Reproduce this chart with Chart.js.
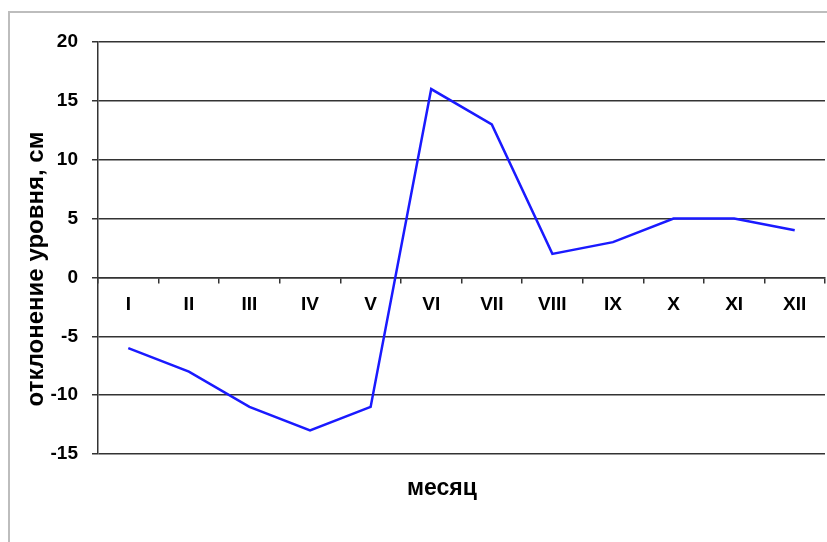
<!DOCTYPE html>
<html>
<head>
<meta charset="utf-8">
<script src="https://cdn.jsdelivr.net/npm/chart.js@4.4.1/dist/chart.umd.min.js"></script>
<style>
    body { margin: 0; background: #fff; overflow: hidden; }
    .frame {
        position: absolute; left: 8px; top: 11px; width: 840px; height: 560px;
        border-left: 2px solid #bdbdbd; border-top: 2px solid #bdbdbd;
    }
    #chart { position: absolute; left: 0; top: 0; }
</style>
</head>
<body>
<div class="frame"></div>
<canvas id="chart" width="827" height="542"></canvas>
<script>
// Months (Roman numerals) and level deviation, cm
const months = ['I', 'II', 'III', 'IV', 'V', 'VI', 'VII', 'VIII', 'IX', 'X', 'XI', 'XII'];
const deviation = [-6, -8, -11, -13, -11, 16, 13, 2, 3, 5, 5, 4];
const yTicks = [-15, -10, -5, 0, 5, 10, 15, 20];

const yTitle = 'отклонение уровня, см';
const xTitle = 'месяц';

const FONT = '"Liberation Sans", Arial, sans-serif';
const GRID = '#333333';

// Axis titles drawn by hand (Excel puts them off-centre)
const axisTitles = {
    id: 'axisTitles',
    afterDraw(chart) {
        const ctx = chart.ctx;
        ctx.save();
        ctx.fillStyle = '#000';
        ctx.textAlign = 'center';
        ctx.textBaseline = 'alphabetic';
        ctx.font = 'bold 23px ' + FONT;
        ctx.fillText(xTitle, 442, 495);
        ctx.font = 'bold 24px ' + FONT;
        ctx.translate(43, 269);
        ctx.rotate(-Math.PI / 2);
        ctx.fillText(yTitle, 0, 0);
        ctx.restore();
    }
};

document.addEventListener('DOMContentLoaded', function () {
    const ctx = document.getElementById('chart').getContext('2d');
    new Chart(ctx, {
        type: 'line',
        data: {
            labels: months,
            datasets: [{
                data: deviation,
                borderColor: '#1a1aff',
                borderWidth: 2.5,
                pointRadius: 0,
                tension: 0,
                fill: false
            }]
        },
        options: {
            responsive: false,
            animation: false,
            layout: { padding: { left: 0, top: 42, right: 2, bottom: 88 } },
            plugins: {
                legend: { display: false },
                tooltip: { enabled: false }
            },
            scales: {
                x: {
                    position: { y: 0 },
                    offset: true,
                    grid: {
                        offset: true,
                        drawOnChartArea: false,
                        drawTicks: true,
                        tickLength: 5,
                        color: GRID,
                        lineWidth: 1.5
                    },
                    border: { color: GRID, width: 1.5 },
                    ticks: {
                        color: '#000',
                        padding: 11,
                        maxRotation: 0,
                        autoSkip: false,
                        font: { family: FONT, size: 19, weight: 'bold' }
                    }
                },
                y: {
                    min: yTicks[0],
                    max: yTicks[yTicks.length - 1],
                    afterBuildTicks: function (scale) {
                        scale.ticks = yTicks.map(v => ({ value: v }));
                    },
                    afterFit: function (scale) {
                        scale.width = 98;
                    },
                    grid: {
                        color: GRID,
                        lineWidth: 1.5,
                        tickLength: 6
                    },
                    border: { color: GRID, width: 1.5 },
                    ticks: {
                        color: '#000',
                        padding: 14,
                        font: { family: FONT, size: 19, weight: 'bold' }
                    }
                }
            }
        },
        plugins: [axisTitles]
    });
});
</script>
</body>
</html>
